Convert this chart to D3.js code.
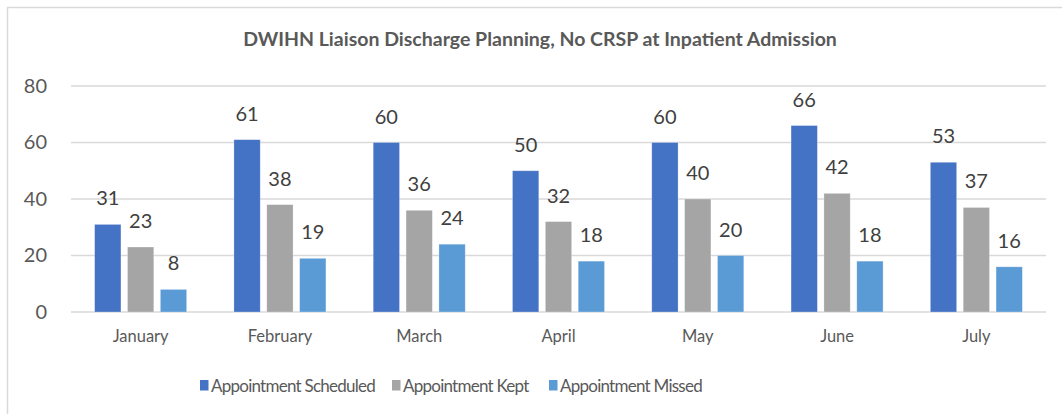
<!DOCTYPE html>
<html>
<head>
<meta charset="utf-8">
<script src="https://cdn.jsdelivr.net/npm/d3@7"></script>
<style>
  body { margin: 0; background: #fff; }
  svg text { font-family: Lato, "Open Sans", sans-serif; }
</style>
</head>
<body>
<svg id="chart" width="1062" height="414"></svg>
<script>
const months = ['January', 'February', 'March', 'April', 'May', 'June', 'July'];
const scheduled = [31, 61, 60, 50, 60, 66, 53];
const kept = [23, 38, 36, 32, 40, 42, 37];
const missed = [8, 19, 24, 18, 20, 18, 16];
const seriesNames = ['Appointment Scheduled', 'Appointment Kept', 'Appointment Missed'];
const yTicks = [0, 20, 40, 60, 80];

const colors = ['#4472C4', '#A5A5A5', '#5B9BD5'];
const series = [scheduled, kept, missed];

const svg = d3.select('#chart');

// outer chart frame
svg.append('rect')
  .attr('x', 7.5).attr('y', 7.5)
  .attr('width', 1070).attr('height', 430)
  .attr('fill', 'none').attr('stroke', '#d9d9d9').attr('stroke-width', 1.5);

svg.append('text')
  .attr('x', 540).attr('y', 46)
  .attr('text-anchor', 'middle')
  .attr('font-size', 19.5).attr('font-weight', 'bold')
  .attr('fill', '#595959')
  .text('DWIHN Liaison Discharge Planning, No CRSP at Inpatient Admission');

const x = d3.scaleBand().domain(months).range([71, 1046]);
const y = d3.scaleLinear().domain([0, 80]).range([312, 86]);
const inner = d3.scaleBand().domain(d3.range(3)).range([-46, 46]).paddingInner(0.2);

// gridlines
svg.append('g').selectAll('line').data(yTicks).join('line')
  .attr('x1', 71).attr('x2', 1046)
  .attr('y1', d => y(d)).attr('y2', d => y(d))
  .attr('stroke', '#d9d9d9').attr('stroke-width', 1.5);

// y axis labels
const yAxis = svg.append('g')
  .attr('transform', 'translate(50,0)')
  .call(d3.axisLeft(y).tickValues(yTicks).tickSize(0).tickPadding(3));
yAxis.select('.domain').remove();
yAxis.selectAll('text')
  .attr('font-size', 20).attr('fill', '#595959')
  .style('font-family', 'Lato, sans-serif');

// x axis labels
const xAxis = svg.append('g')
  .attr('transform', 'translate(0,312)')
  .call(d3.axisBottom(x).tickSize(0));
xAxis.select('.domain').remove();
xAxis.selectAll('text')
  .attr('y', 30).attr('dy', 0)
  .attr('font-size', 16.5).attr('fill', '#595959')
  .style('font-family', 'Lato, sans-serif');

// bars and labels
series.forEach((vals, i) => {
  const g = svg.append('g');
  g.selectAll('rect').data(vals).join('rect')
    .attr('x', (d, j) => x(months[j]) + x.bandwidth() / 2 + inner(i))
    .attr('y', d => y(d))
    .attr('width', inner.bandwidth())
    .attr('height', d => y(0) - y(d))
    .attr('fill', colors[i])
    .attr('stroke', '#ffffff').attr('stroke-opacity', 0.35).attr('stroke-width', 0.75);
  g.selectAll('text').data(vals).join('text')
    .attr('x', (d, j) => x(months[j]) + x.bandwidth() / 2 + inner(i) + inner.bandwidth() / 2)
    .attr('y', d => y(d) - 19)
    .attr('text-anchor', 'middle')
    .attr('font-size', 20).attr('fill', '#404040')
    .text(d => d);
});

// legend
const legendX = [200, 392, 549];
const legend = svg.append('g').selectAll('g').data(seriesNames).join('g')
  .attr('transform', (d, i) => `translate(${legendX[i]},380)`);
legend.append('rect')
  .attr('width', 8.5).attr('height', 10.5)
  .attr('fill', (d, i) => colors[i]);
legend.append('text')
  .attr('x', 11).attr('y', 11.5)
  .attr('font-size', 17).attr('letter-spacing', -0.75)
  .attr('fill', '#595959')
  .text(d => d);
</script>
</body>
</html>
